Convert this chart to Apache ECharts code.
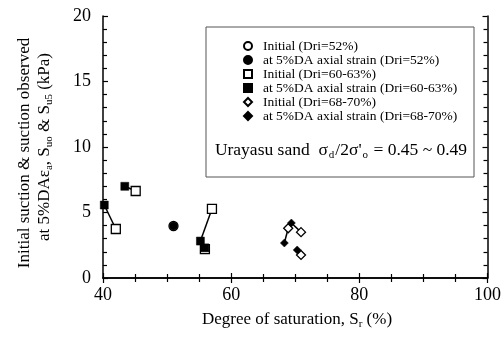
<!DOCTYPE html>
<html><head><meta charset="utf-8">
<script src="https://cdn.jsdelivr.net/npm/echarts@6/dist/echarts.min.js"></script>
<style>html,body{margin:0;padding:0;background:#fff}#c{width:504px;height:337px}</style>
</head><body><div id="c"></div>
<script>
// Data: [Sr (%), suction (kPa)]
var initial52 = [[51.0, 3.97]];
var strain52 = [[51.0, 3.97]];
var initial6063 = [[42.0, 3.74], [45.1, 6.64], [57.0, 5.27], [55.9, 2.2]];
var strain6063 = [[40.2, 5.57], [43.4, 7.0], [55.2, 2.82], [55.9, 2.3]];
var initial6870 = [[68.9, 3.8], [70.9, 3.5], [70.9, 1.76]];
var strain6870 = [[68.3, 2.67], [69.4, 4.2], [70.3, 2.14]];
var seriesNames = ['Initial (Dri=52%)', 'at 5%DA axial strain (Dri=52%)', 'Initial (Dri=60-63%)',
  'at 5%DA axial strain (Dri=60-63%)', 'Initial (Dri=68-70%)', 'at 5%DA axial strain (Dri=68-70%)'];
var xTicks = [40, 60, 80, 100];
var yTicks = [0, 5, 10, 15, 20];

var FONT = 'Liberation Serif';
var chart = echarts.init(document.getElementById('c'), null, {renderer: 'canvas'});

function pairLines(a, b) {
  var out = [];
  for (var i = 0; i < a.length; i++) {
    out.push({type: 'line', data: [a[i], b[i]], symbol: 'none', silent: true, z: 1,
      lineStyle: {color: '#000', width: 1.5}, animation: false});
  }
  return out;
}

function axisCommon(show) {
  return {
    axisLine: {show: true, lineStyle: {color: '#000', width: 1.5}},
    axisTick: {show: true, inside: true, length: 5, lineStyle: {color: '#000', width: 1.2}},
    minorTick: {show: true, length: 4, lineStyle: {color: '#000', width: 1.2}},
    splitLine: {show: false},
    axisLabel: {show: show, color: '#000', fontFamily: FONT, fontSize: 18}
  };
}

var xBase = Object.assign({type: 'value', min: xTicks[0], max: xTicks[xTicks.length - 1], interval: 20}, axisCommon(true));
xBase.minorTick.splitNumber = 4;
xBase.axisLabel.margin = 8;
var xTop = Object.assign({type: 'value', min: 40, max: 100, interval: 20, position: 'top'}, axisCommon(false));
xTop.minorTick.splitNumber = 4;

var yBase = Object.assign({type: 'value', min: yTicks[0], max: yTicks[yTicks.length - 1], interval: 5}, axisCommon(true));
yBase.minorTick.splitNumber = 5;
yBase.axisLabel.margin = 12;
var yRight = Object.assign({type: 'value', min: 0, max: 20, interval: 5, position: 'right'}, axisCommon(false));
yRight.minorTick.splitNumber = 5;

var openStyle = {color: '#fff', borderColor: '#000', borderWidth: 1.3, opacity: 1};
var fillStyle = {color: '#000', borderColor: '#000', borderWidth: 0.5, opacity: 1};

var series = [].concat(pairLines(initial6063, strain6063), pairLines(initial6870, strain6870), [
  {name: seriesNames[0], type: 'scatter', data: initial52, symbol: 'circle', symbolSize: 9, itemStyle: openStyle, z: 3},
  {name: seriesNames[1], type: 'scatter', data: strain52, symbol: 'circle', symbolSize: 8, itemStyle: fillStyle, z: 4},
  {name: seriesNames[2], type: 'scatter', data: initial6063, symbol: 'rect', symbolSize: 9, itemStyle: openStyle, z: 3},
  {name: seriesNames[3], type: 'scatter', data: strain6063, symbol: 'rect', symbolSize: 8, itemStyle: fillStyle, z: 4},
  {name: seriesNames[4], type: 'scatter', data: initial6870, symbol: 'diamond', symbolSize: 9, itemStyle: openStyle, z: 3},
  {name: seriesNames[5], type: 'scatter', data: strain6870, symbol: 'diamond', symbolSize: 8, itemStyle: fillStyle, z: 4}
]);

var subStyle = {fontSize: 11, fontFamily: FONT, color: '#000', padding: [9, 0, 0, 0]};
var subStyleU = {fontSize: 11, fontFamily: FONT, color: '#000', padding: [10, 1, 0, 1]};
var mainStyle = {fontSize: 17, fontFamily: FONT, color: '#000'};
var mainStyleU = {fontSize: 17.5, fontFamily: FONT, color: '#000'};

chart.setOption({
  animation: false,
  grid: {left: 103, right: 13, top: 16, bottom: 59},
  xAxis: [xBase, xTop],
  yAxis: [yBase, yRight],
  legend: {
    orient: 'vertical', left: 243, top: 39, itemWidth: 8, itemHeight: 8, itemGap: 0, padding: 0,
    data: seriesNames,
    textStyle: {fontFamily: FONT, fontSize: 13.5, lineHeight: 13, height: 13, color: '#000', padding: [0, 0, 0, 6]}
  },
  graphic: [
    {type: 'rect', shape: {x: 206, y: 27, width: 268, height: 150}, style: {fill: 'none', stroke: '#555', lineWidth: 1}, z: 10},
    {type: 'text', x: 341, y: 150, z: 11, style: {
      text: '{m|Urayasu sand  σ}{u|d}{m|/2σ\'}{u|o}{m| = 0.45 ~ 0.49}',
      align: 'center', verticalAlign: 'middle',
      rich: {m: mainStyleU, u: subStyleU}}},
    {type: 'text', x: 297, y: 320, z: 11, style: {
      text: '{m|Degree of saturation, S}{s|r}{m| (%)}',
      align: 'center', verticalAlign: 'middle',
      rich: {m: mainStyle, s: subStyle}}},
    {type: 'text', x: 25, y: 153, rotation: Math.PI / 2, z: 11, style: {
      text: '{m|Initial suction & suction observed}',
      align: 'center', verticalAlign: 'middle',
      rich: {m: mainStyle}}},
    {type: 'text', x: 45, y: 147, rotation: Math.PI / 2, z: 11, style: {
      text: '{m|at 5%DAε}{s|a}{m|, S}{s|uo}{m| & S}{s|u5}{m| (kPa)}',
      align: 'center', verticalAlign: 'middle',
      rich: {m: mainStyle, s: subStyle}}}
  ],
  series: series
});
</script></body></html>
